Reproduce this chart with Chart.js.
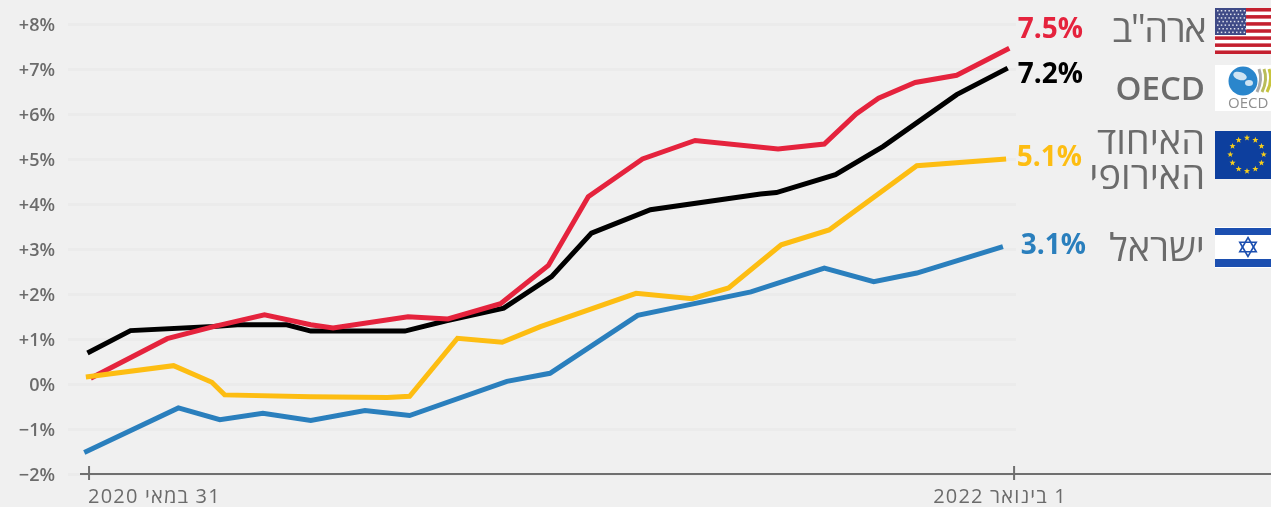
<!DOCTYPE html>
<html lang="he">
<head>
<meta charset="utf-8">
<title>Chart</title>
<script src="https://cdn.jsdelivr.net/npm/chart.js@4"></script>
<style>
    html, body { margin: 0; padding: 0; background: #f0f0f0; overflow: hidden; }
    canvas { display: block; }
</style>
</head>
<body>
<canvas id="chart" width="1271" height="507"></canvas>
<script>
// x values are days counted from 31 May 2020
const xTickDays = [0, 580];
const xTickLabels = ['31 במאי 2020', '1 בינואר 2022'];
const yTicks = [-2, -1, 0, 1, 2, 3, 4, 5, 6, 7, 8];

const usDays = [1, 49, 78, 110, 139, 153, 200, 225, 258, 288, 313, 347, 380, 432, 461, 481, 495, 518, 544, 577];
const usValues = [0.13, 1.01, 1.28, 1.54, 1.32, 1.25, 1.50, 1.45, 1.79, 2.64, 4.17, 5.01, 5.42, 5.23, 5.34, 6.01, 6.36, 6.71, 6.87, 7.47];

const oecdDays = [-1, 26, 78, 93, 124, 139, 198, 224, 260, 290, 315, 352, 421, 431, 468, 498, 544, 576];
const oecdValues = [0.69, 1.19, 1.28, 1.32, 1.32, 1.18, 1.18, 1.41, 1.69, 2.39, 3.36, 3.88, 4.23, 4.26, 4.66, 5.29, 6.44, 7.03];

const euDays = [-2, 53, 77, 85, 139, 187, 201, 231, 259, 283, 343, 378, 401, 434, 464, 519, 575];
const euValues = [0.16, 0.41, 0.04, -0.24, -0.28, -0.30, -0.27, 1.02, 0.93, 1.28, 2.02, 1.90, 2.14, 3.10, 3.43, 4.86, 5.01];

const israelDays = [-3, 56, 82, 109, 139, 173, 201, 262, 289, 344, 415, 461, 492, 519, 573];
const israelValues = [-1.52, -0.53, -0.79, -0.65, -0.81, -0.59, -0.70, 0.06, 0.24, 1.53, 2.05, 2.58, 2.28, 2.47, 3.06];

const endLabels = ['7.5%', '7.2%', '5.1%', '3.1%'];

const RED = '#e5233d', BLACK = '#000000', YELLOW = '#fdbd12', BLUE = '#2a7fbd';
const GREY = '#6b6b6b';
const FONT = '"Open Sans", sans-serif';

function toPoints(days, values) {
    return days.map((d, i) => ({ x: d, y: values[i] }));
}

function lineSet(label, days, values, color) {
    return {
        label: label,
        data: toPoints(days, values),
        borderColor: color,
        backgroundColor: color,
        borderWidth: 5,
        tension: 0,
        pointRadius: 0,
        borderJoinStyle: 'miter',
        clip: false
    };
}

/* --- Flags --- */
function star(ctx, cx, cy, r, color) {
    ctx.fillStyle = color;
    ctx.beginPath();
    for (let i = 0; i < 10; i++) {
        const rr = i % 2 ? r * 0.42 : r;
        const a = -Math.PI / 2 + i * Math.PI / 5;
        ctx.lineTo(cx + rr * Math.cos(a), cy + rr * Math.sin(a));
    }
    ctx.closePath();
    ctx.fill();
}

function drawUsFlag(ctx) {
    const x = 1215, y = 8, w = 56, h = 46;
    ctx.fillStyle = '#ffffff';
    ctx.fillRect(x, y, w, h);
    ctx.fillStyle = '#c4202f';
    for (let i = 0; i < 13; i += 2) ctx.fillRect(x, y + i * h / 13, w, h / 13);
    ctx.fillStyle = '#3f4a86';
    ctx.fillRect(x, y, 31, 27);
    ctx.fillStyle = '#dfe1ec';
    for (let r = 0; r < 7; r++) {
        for (let c = 0; c < 8; c++) {
            ctx.fillRect(x + 2 + c * 3.8 + (r % 2) * 1.6, y + 2 + r * 3.6, 1.5, 1.5);
        }
    }
}

function drawOecdFlag(ctx) {
    ctx.fillStyle = '#ffffff';
    ctx.fillRect(1215, 65, 56, 46);
    ctx.fillStyle = '#2a86cc';
    ctx.beginPath();
    ctx.arc(1243, 81, 14.5, 0, Math.PI * 2);
    ctx.fill();
    ctx.fillStyle = '#cfe4f3';
    ctx.beginPath();
    ctx.ellipse(1240, 76, 7, 4, 0.3, 0, Math.PI * 2);
    ctx.ellipse(1249, 83, 4, 3, 0, 0, Math.PI * 2);
    ctx.fill();
    ['#a9a9a9', '#b9bc5a', '#c8c43c'].forEach((c, i) => {
        ctx.strokeStyle = c;
        ctx.lineWidth = 3;
        ctx.beginPath();
        ctx.moveTo(1259 + i * 5, 69);
        ctx.quadraticCurveTo(1263 + i * 5, 80, 1257 + i * 5, 92);
        ctx.stroke();
    });
    ctx.font = '400 15px ' + FONT;
    ctx.fillStyle = '#8f8f8f';
    ctx.textAlign = 'left';
    ctx.textBaseline = 'middle';
    ctx.fillText('OECD', 1228, 104);
}

function drawEuFlag(ctx) {
    ctx.fillStyle = '#0d3f9e';
    ctx.fillRect(1215, 131, 56, 48);
    for (let i = 0; i < 12; i++) {
        const a = i * Math.PI / 6;
        star(ctx, 1247 + 16.7 * Math.cos(a), 154.5 + 16.7 * Math.sin(a), 3.2, '#f5cd1c');
    }
}

function drawIsraelFlag(ctx) {
    ctx.fillStyle = '#ffffff';
    ctx.fillRect(1215, 227, 56, 41);
    ctx.fillStyle = '#1c4fb0';
    ctx.fillRect(1215, 228, 56, 7);
    ctx.fillRect(1215, 259, 56, 8);
    ctx.strokeStyle = '#1c4fb0';
    ctx.lineWidth = 1.6;
    [-Math.PI / 2, Math.PI / 2].forEach(start => {
        ctx.beginPath();
        for (let i = 0; i < 3; i++) {
            const a = start + i * 2 * Math.PI / 3;
            ctx.lineTo(1248 + 9.5 * Math.cos(a), 247 + 9.5 * Math.sin(a));
        }
        ctx.closePath();
        ctx.stroke();
    });
}

/* --- Axis line, x labels, end labels, legend --- */
const overlayPlugin = {
    id: 'overlay',
    afterDraw(chart) {
        const ctx = chart.ctx;
        const xs = chart.scales.x;
        const axisY = chart.scales.y.getPixelForValue(-2);

        ctx.save();
        ctx.strokeStyle = '#6f6f6f';
        ctx.lineWidth = 2;
        ctx.beginPath();
        ctx.moveTo(80, axisY);
        ctx.lineTo(1271, axisY);
        xTickDays.forEach(d => {
            const px = xs.getPixelForValue(d);
            ctx.moveTo(px, axisY - 8);
            ctx.lineTo(px, axisY + 6);
        });
        ctx.stroke();

        // x labels
        ctx.direction = 'rtl';
        ctx.textBaseline = 'middle';
        ctx.font = '400 20px ' + FONT;
        ctx.letterSpacing = '1.2px';
        ctx.fillStyle = GREY;
        ctx.textAlign = 'left';
        ctx.fillText(xTickLabels[0], 88, 497);
        ctx.textAlign = 'right';
        ctx.fillText(xTickLabels[1], 1067, 497);
        ctx.letterSpacing = '0px';

        // end of line values
        ctx.direction = 'ltr';
        ctx.textAlign = 'right';
        ctx.font = '700 28px ' + FONT;
        const colors = [RED, BLACK, YELLOW, BLUE];
        const labelRight = [1083, 1083, 1082, 1086];
        const labelY = [30, 75, 158, 246];
        endLabels.forEach((t, i) => {
            ctx.fillStyle = colors[i];
            ctx.fillText(t, labelRight[i], labelY[i]);
        });

        // series names
        ctx.direction = 'rtl';
        ctx.textAlign = 'right';
        ctx.fillStyle = GREY;
        ctx.font = '400 38px ' + FONT;
        ctx.fillText('האיחוד', 1205, 143);
        ctx.fillText('האירופי', 1205, 178);
        ctx.fillText('ישראל', 1205, 250);
        ctx.letterSpacing = '-1.5px';
        ctx.fillText('ארה"ב', 1205, 31);
        ctx.letterSpacing = '0px';
        ctx.direction = 'ltr';
        ctx.font = '600 33px ' + FONT;
        ctx.fillText('OECD', 1205, 91);

        drawUsFlag(ctx);
        drawOecdFlag(ctx);
        drawEuFlag(ctx);
        drawIsraelFlag(ctx);
        ctx.restore();
    }
};

function formatPercent(v) {
    if (v > 0) return '+' + v + '%';
    if (v < 0) return '−' + Math.abs(v) + '%';
    return '0%';
}

document.addEventListener('DOMContentLoaded', () => {
    new Chart(document.getElementById('chart'), {
        type: 'line',
        data: {
            // first dataset is painted last, so it sits on top
            datasets: [
                lineSet('האיחוד האירופי', euDays, euValues, YELLOW),
                lineSet('ארה״ב', usDays, usValues, RED),
                lineSet('OECD', oecdDays, oecdValues, BLACK),
                lineSet('ישראל', israelDays, israelValues, BLUE)
            ]
        },
        plugins: [overlayPlugin],
        options: {
            responsive: false,
            animation: false,
            layout: { padding: { top: 24.5, right: 255, bottom: 0, left: 0 } },
            plugins: { legend: { display: false }, tooltip: { enabled: false } },
            scales: {
                x: {
                    type: 'linear',
                    min: -13.2,
                    max: 581.2,
                    afterFit: s => { s.height = 33; },
                    afterBuildTicks: s => { s.ticks = xTickDays.map(v => ({ value: v })); },
                    ticks: { display: false },
                    grid: { display: false },
                    border: { display: false }
                },
                y: {
                    min: -2,
                    max: 8,
                    afterFit: s => { s.width = 68; },
                    afterBuildTicks: s => { s.ticks = yTicks.map(v => ({ value: v })); },
                    ticks: {
                        callback: formatPercent,
                        color: GREY,
                        padding: 13,
                        labelOffset: 1.5,
                        font: { family: '"Open Sans", sans-serif', size: 18, weight: '600' }
                    },
                    grid: { color: '#ebebeb', lineWidth: 3, drawTicks: false },
                    border: { display: false }
                }
            }
        }
    });
});
</script>
</body>
</html>
